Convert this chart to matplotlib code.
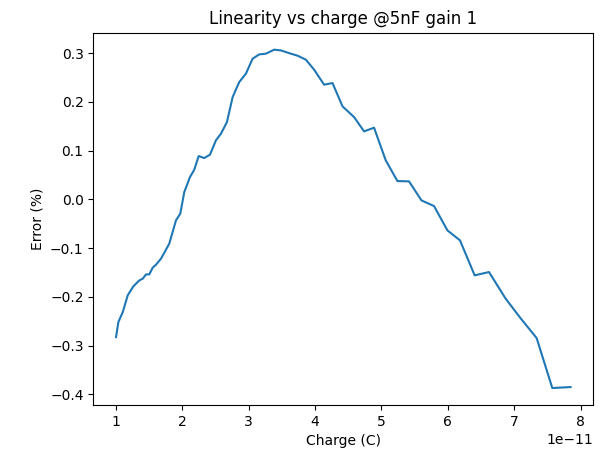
import numpy as np
import matplotlib
matplotlib.use("Agg")
import matplotlib.pyplot as plt

# injected charge, in units of 1e-11 C
charge_e11 = [1.000, 1.035, 1.101, 1.176, 1.260, 1.351, 1.402, 1.452, 1.501, 1.552,
              1.602, 1.677, 1.802, 1.903, 1.968, 2.028, 2.114, 2.179, 2.245, 2.329,
              2.415, 2.505, 2.581, 2.671, 2.757, 2.856, 2.957, 3.058, 3.157, 3.258,
              3.383, 3.484, 3.634, 3.735, 3.860, 3.985, 4.135, 4.262, 4.413, 4.587,
              4.738, 4.888, 5.064, 5.240, 5.415, 5.602, 5.792, 5.993, 6.183, 6.404,
              6.620, 6.871, 7.097, 7.338, 7.574, 7.849]

# linearity error in percent
error_pct = [-0.2825, -0.2517, -0.2312, -0.1969, -0.1785, -0.1662, -0.1627, -0.1539, -0.1539, -0.1401,
             -0.1340, -0.1217, -0.0909, -0.0431, -0.0294, 0.0149, 0.0457, 0.0609, 0.0888, 0.0847,
             0.0916, 0.1210, 0.1347, 0.1585, 0.2098, 0.2405, 0.2578, 0.2885, 0.2973, 0.2988,
             0.3070, 0.3055, 0.2988, 0.2947, 0.2865, 0.2660, 0.2352, 0.2385, 0.1907, 0.1687,
             0.1394, 0.1470, 0.0800, 0.0375, 0.0369, -0.0021, -0.0138, -0.0636, -0.0841, -0.1559,
             -0.1491, -0.2037, -0.2440, -0.2845, -0.3870, -0.3850]

charge = np.array(charge_e11) * 1e-11

fig = plt.figure(figsize=(6.06, 4.55), dpi=100)
ax = fig.add_axes([0.154, 0.110, 0.825, 0.818])
ax.plot(charge, error_pct)
ax.set_title("Linearity vs charge @5nF gain 1")
ax.set_xlabel("Charge (C)")
ax.set_ylabel("Error (%)")

fig.savefig("out.png", dpi=100)
